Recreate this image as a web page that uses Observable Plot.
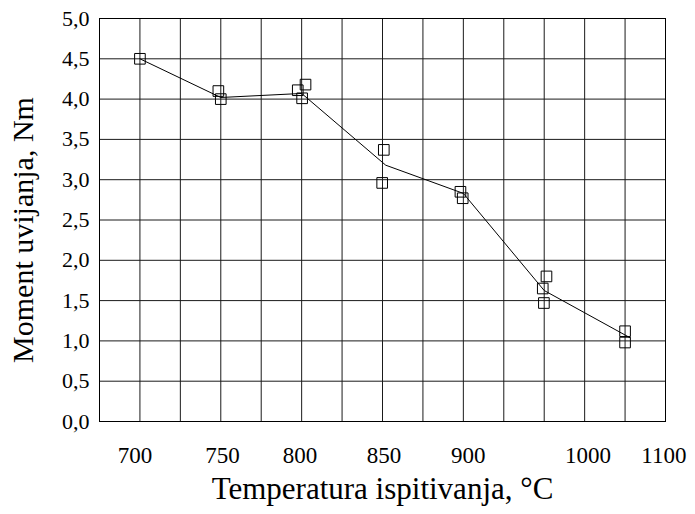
<!DOCTYPE html>
<html>
<head>
<meta charset="utf-8">
<script src="https://cdn.jsdelivr.net/npm/d3@7"></script>
<script src="https://cdn.jsdelivr.net/npm/@observablehq/plot@0.6"></script>
<style>
  html, body { margin: 0; padding: 0; background: #fff; }
  svg, svg text { font-family: "Liberation Serif", "Times New Roman", serif !important; font-variant: normal !important; }
</style>
</head>
<body>
<div id="chart"></div>
<script>
// Measured points (temperature °C, twisting moment Nm)
const pointTemp   = [700, 748.5, 750, 797.6, 802.4, 800.3, 850.8, 849.8, 898.2, 899.6, 951.4, 949.1, 949.8, 1000, 1000];
const pointMoment = [4.50, 4.10, 4.00, 4.11, 4.18, 4.01, 3.37, 2.96, 2.85, 2.77, 1.80, 1.65, 1.47, 1.12, 0.98];

// Mean curve
const lineTemp   = [700, 750, 800, 852, 900, 950, 1003];
const lineMoment = [4.50, 4.02, 4.07, 3.18, 2.83, 1.625, 1.04];

// Grid
const gridTemp   = [700, 725, 750, 775, 800, 825, 850, 875, 900, 925, 950, 975, 1000];
const gridMoment = [0.5, 1.0, 1.5, 2.0, 2.5, 3.0, 3.5, 4.0, 4.5];

// Axis labels (as printed in the original figure)
const xLabelAt   = [697, 751, 799, 851, 903, 977, 1024];
const xLabelText = ["700", "750", "800", "850", "900", "1000", "1100"];
const yTicks     = [0, 0.5, 1, 1.5, 2, 2.5, 3, 3.5, 4, 4.5, 5];

const xTitle = "Temperatura ispitivanja, °C";
const yTitle = "Moment uvijanja, Nm";

const points = pointTemp.map((t, i) => ({t, m: pointMoment[i]}));
const line = lineTemp.map((t, i) => ({t, m: lineMoment[i]}));
const serif = "Liberation Serif";

const chart = Plot.plot({
  width: 695,
  height: 514,
  marginLeft: 99,
  marginRight: 30,
  marginTop: 18,
  marginBottom: 93,
  style: {fontFamily: serif, background: "#fff", color: "#000"},
  x: {domain: [675, 1025]},
  y: {domain: [0, 5]},
  marks: [
    Plot.ruleX(gridTemp, {stroke: "#1a1a1a", strokeWidth: 1}),
    Plot.ruleY(gridMoment, {stroke: "#1a1a1a", strokeWidth: 1}),
    Plot.frame({stroke: "#000", strokeWidth: 1}),
    Plot.line(line, {x: "t", y: "m", stroke: "#000", strokeWidth: 1}),
    Plot.dot(points, {x: "t", y: "m", symbol: "square", r: 6, stroke: "#000", strokeWidth: 1, fill: "none"}),
    Plot.axisY(yTicks, {
      tickSize: 0, tickPadding: 10, fontSize: 22, fontFamily: serif, label: null,
      tickFormat: d => d.toFixed(1).replace(".", ",")
    }),
    Plot.axisX(xLabelAt, {
      tickSize: 0, tickPadding: 25, fontSize: 23, fontFamily: serif, label: null,
      tickFormat: (d, i) => xLabelText[i]
    }),
    Plot.text([xTitle], {text: d => d, frameAnchor: "bottom", textAnchor: "middle", dy: 77, fontSize: 31, fontFamily: serif, fill: "#000"}),
    Plot.text([yTitle], {text: d => d, frameAnchor: "left", textAnchor: "middle", dx: -76, dy: 10, rotate: -90, fontSize: 30, fontFamily: serif, fill: "#000"})
  ]
});
document.getElementById("chart").appendChild(chart);
</script>
</body>
</html>
